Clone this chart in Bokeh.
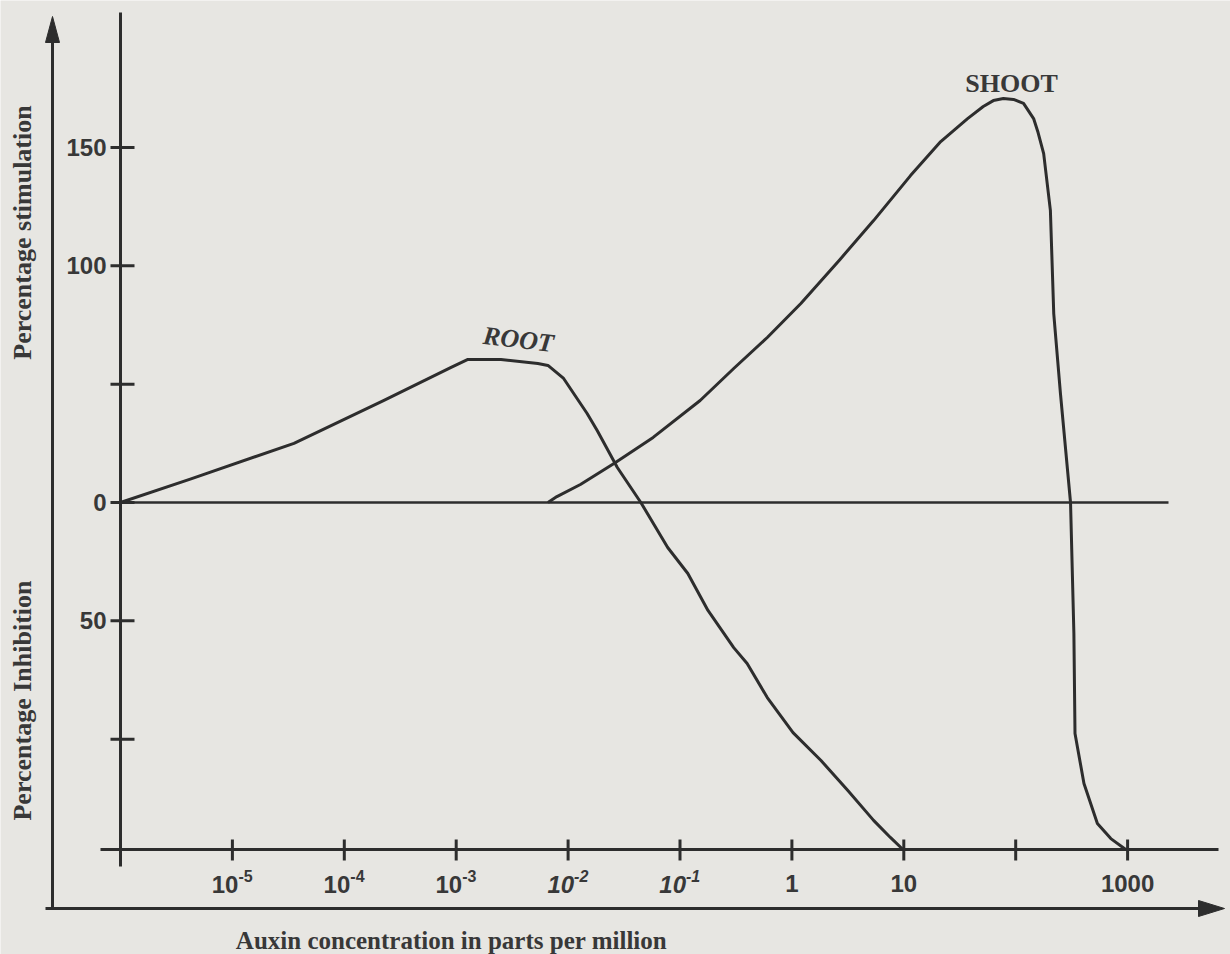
from bokeh.plotting import figure
from bokeh.models import Range1d
from bokeh.core.properties import value
from bokeh.embed import file_html
from bokeh.resources import INLINE

# ---------------- data (x = log10 of auxin concentration in ppm) ----------------
root_log_conc = [-6.00, -5.37, -4.45, -3.65, -3.05, -2.90, -2.60, -2.27, -2.18, -2.04,
                 -1.83, -1.74, -1.56, -1.35, -1.11, -0.93, -0.75, -0.52, -0.40, -0.22,
                 0.01, 0.26, 0.50, 0.73, 0.88, 0.99]
root_pct = [0, 10, 25, 43, 57, 60.4, 60.4, 58.7, 57.9, 52.4,
            37.6, 30.4, 14.8, 0, -19, -30, -45.6, -61.3, -68, -82.4,
            -97.2, -109, -121.7, -134.3, -141.5, -146.5]

shoot_log_conc = [-2.18, -2.10, -1.89, -1.59, -1.24, -0.82, -0.52, -0.22, 0.08, 0.43,
                  0.73, 1.06, 1.33, 1.57, 1.71, 1.80, 1.89, 1.98, 2.07, 2.16,
                  2.20, 2.25, 2.31, 2.34, 2.40, 2.49, 2.52, 2.53, 2.61, 2.73,
                  2.85, 2.98]
shoot_pct = [0, 2.5, 7.6, 16.5, 27.5, 43.1, 56.6, 69.7, 84.1, 102.7,
             119.1, 138.1, 152.5, 162.2, 167.3, 169.8, 170.7, 170.3, 168.6, 162.2,
             156.3, 147.4, 123.4, 79.8, 46, 0, -55.3, -97.6, -118.7, -135.6,
             -142, -146.5]

y_tick_vals = [150, 100, 50, 0, -50, -100]
y_label_vals = [150, 100, 0, -50]
y_label_text = ["150", "100", "0", "50"]

x_tick_exps = [-6, -5, -4, -3, -2, -1, 0, 1, 2, 3]
x_pow_exps = [-5, -4, -3, -2, -1]
x_pow_base = ["10", "10", "10", "10", "10"]
x_pow_sup = ["-5", "-4", "-3", "-2", "-1"]
x_pow_style = ["bold", "bold", "bold", "bold italic", "bold italic"]
x_plain_exps = [0, 1, 3]
x_plain_text = ["1", "10", "1000"]

# ---------------- page-pixel helpers for decorations ----------------
DEC_PX = 111.9      # pixels per decade
UNIT_PX = 2.367     # pixels per percent


def fx(px):
    return -6 + (px - 120) / DEC_PX


def fy(py):
    return (502 - py) / UNIT_PX


W, H = 1230, 954
BG = "#e7e6e2"
INK = "#2d2d2d"
TXT = "#383838"

p = figure(width=W, height=H, output_backend="svg", toolbar_location=None,
           x_range=Range1d(fx(0), fx(W)), y_range=Range1d(fy(H), fy(0)),
           x_axis_location=None, y_axis_location=None, min_border=0)
p.grid.visible = False
p.outline_line_color = None
p.background_fill_color = BG
p.border_fill_color = BG

# inner axes
p.segment(x0=[-6], y0=[fy(12)], x1=[-6], y1=[fy(866)], line_color=INK, line_width=3)
p.segment(x0=[fx(100)], y0=[fy(849)], x1=[fx(1218)], y1=[fy(849)], line_color=INK, line_width=3)
p.segment(x0=[-6], y0=[0], x1=[fx(1168)], y1=[0], line_color=INK, line_width=2.5)

# y ticks
p.segment(x0=[fx(110)] * len(y_tick_vals), y0=y_tick_vals,
          x1=[fx(134)] * len(y_tick_vals), y1=y_tick_vals, line_color=INK, line_width=3)
# x ticks
p.segment(x0=x_tick_exps, y0=[fy(839)] * len(x_tick_exps),
          x1=x_tick_exps, y1=[fy(860)] * len(x_tick_exps), line_color=INK, line_width=3)

# outer arrows
p.segment(x0=[fx(52)], y0=[fy(908)], x1=[fx(52)], y1=[fy(36)], line_color=INK, line_width=3)
p.patch(x=[fx(52), fx(45), fx(59)], y=[fy(16), fy(42), fy(42)], color=INK)
p.segment(x0=[fx(45)], y0=[fy(908)], x1=[fx(1200)], y1=[fy(908)], line_color=INK, line_width=3)
p.patch(x=[fx(1224), fx(1198), fx(1198)], y=[fy(908), fy(900), fy(916)], color=INK)

# curves
p.line(root_log_conc, root_pct, line_color=INK, line_width=3, line_join="round")
p.line(shoot_log_conc, shoot_pct, line_color=INK, line_width=3, line_join="round")

# y tick labels
p.text(x=[fx(106)] * len(y_label_vals), y=y_label_vals, text=y_label_text,
       text_font=value("Liberation Sans"), text_font_style="bold", text_font_size="24px",
       text_align="right", text_baseline="middle", text_color=TXT)

# x tick labels (powers of ten)
for style in ["bold", "bold italic"]:
    idx = [i for i, s in enumerate(x_pow_style) if s == style]
    p.text(x=[x_pow_exps[i] + 6 / DEC_PX for i in idx], y=[fy(884)] * len(idx),
           text=[x_pow_base[i] for i in idx],
           text_font=value("Liberation Sans"), text_font_style=style, text_font_size="24px",
           text_align="right", text_baseline="middle", text_color=TXT)
    p.text(x=[x_pow_exps[i] + 6 / DEC_PX for i in idx], y=[fy(875)] * len(idx),
           text=[x_pow_sup[i] for i in idx],
           text_font=value("Liberation Sans"), text_font_style=style, text_font_size="16px",
           text_align="left", text_baseline="middle", text_color=TXT)
p.text(x=x_plain_exps, y=[fy(883)] * len(x_plain_exps), text=x_plain_text,
       text_font=value("Liberation Sans"), text_font_style="bold", text_font_size="24px",
       text_align="center", text_baseline="middle", text_color=TXT)

# axis titles
p.text(x=[fx(22), fx(22)], y=[fy(232), fy(700)],
       text=["Percentage stimulation", "Percentage Inhibition"], angle=1.5708,
       text_font=value("Liberation Serif"), text_font_style="bold", text_font_size="26px",
       text_align="center", text_baseline="middle", text_color=TXT)
p.text(x=[fx(451)], y=[fy(940)], text=["Auxin concentration in parts per million"],
       text_font=value("Liberation Serif"), text_font_style="bold", text_font_size="25px",
       text_align="center", text_baseline="middle", text_color=TXT)

# curve labels
p.text(x=[fx(1011)], y=[fy(83)], text=["SHOOT"],
       text_font=value("Liberation Serif"), text_font_style="bold", text_font_size="26px",
       text_align="center", text_baseline="alphabetic", text_color=TXT)
p.text(x=[fx(518)], y=[fy(339)], text=["ROOT"], angle=-0.12,
       text_font=value("Liberation Serif"), text_font_style="bold italic", text_font_size="26px",
       text_align="center", text_baseline="alphabetic", text_color=TXT)

open("out.html", "w").write(file_html(p, INLINE))
